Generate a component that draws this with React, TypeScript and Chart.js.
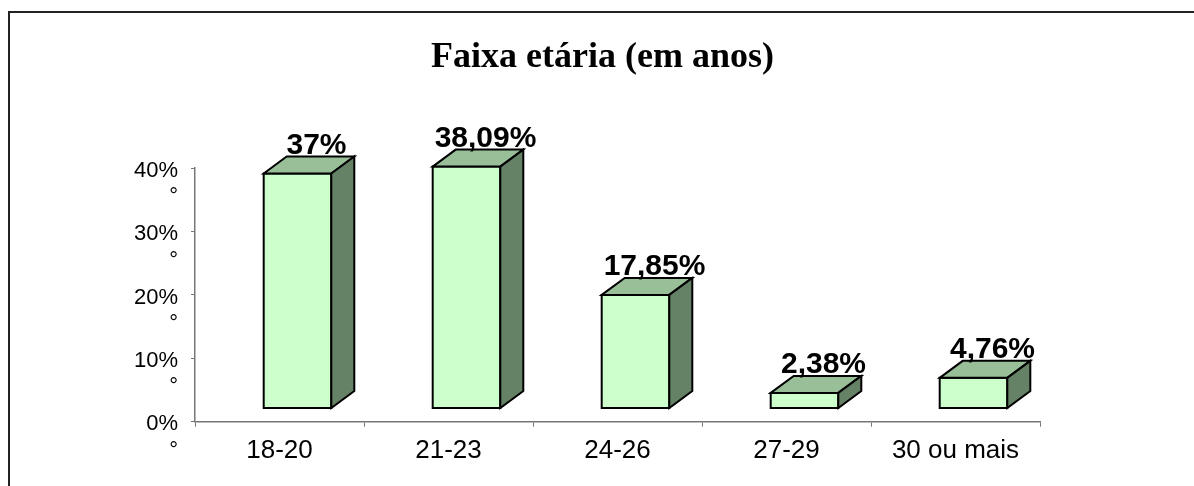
import React, { useEffect, useRef } from "react";
import { Chart, registerables } from "chart.js";

Chart.register(...registerables);

const categories = ["18-20", "21-23", "24-26", "27-29", "30 ou mais"];
const values = [37, 38.09, 17.85, 2.38, 4.76];
const valueLabels = ["37%", "38,09%", "17,85%", "2,38%", "4,76%"];
const yTickLabels = ["0%", "10%", "20%", "30%", "40%"];
const titleText = "Faixa etária (em anos)";

const FRONT = "#CCFFCC";
const TOP = "#99BF99";
const SIDE = "#668266";

const box3d = {
  id: "box3d",
  afterDatasetsDraw(chart: any) {
    const ctx = chart.ctx;
    const meta = chart.getDatasetMeta(0);
    const y = chart.scales.y;
    const lift = 13.7;
    const shiftX = 18;
    const dx = 23;
    const dy = 17;
    ctx.save();
    ctx.lineWidth = 2;
    ctx.lineJoin = "miter";
    ctx.strokeStyle = "#000";
    meta.data.forEach((el: any, i: number) => {
      const w = el.width;
      const left = el.x - w / 2 + shiftX;
      const right = left + w;
      const top = y.getPixelForValue(values[i]) - lift;
      const bottom = y.getPixelForValue(0) - lift;
      // front
      ctx.fillStyle = FRONT;
      ctx.beginPath();
      ctx.rect(left, top, w, bottom - top);
      ctx.fill();
      ctx.stroke();
      // top
      ctx.fillStyle = TOP;
      ctx.beginPath();
      ctx.moveTo(left, top);
      ctx.lineTo(left + dx, top - dy);
      ctx.lineTo(right + dx, top - dy);
      ctx.lineTo(right, top);
      ctx.closePath();
      ctx.fill();
      ctx.stroke();
      // side
      ctx.fillStyle = SIDE;
      ctx.beginPath();
      ctx.moveTo(right, top);
      ctx.lineTo(right + dx, top - dy);
      ctx.lineTo(right + dx, bottom - dy);
      ctx.lineTo(right, bottom);
      ctx.closePath();
      ctx.fill();
      ctx.stroke();
      // label
      ctx.fillStyle = "#000";
      ctx.font = "bold 30px 'Liberation Sans', Arial, sans-serif";
      ctx.textAlign = "center";
      ctx.textBaseline = "alphabetic";
      ctx.fillText(valueLabels[i], left + w / 2 + 19, top - dy - 3);
    });
    ctx.restore();
  },
};

const frame = {
  id: "frame",
  afterDraw(chart: any) {
    const ctx = chart.ctx;
    ctx.save();
    ctx.strokeStyle = "#222";
    ctx.lineWidth = 2;
    ctx.strokeRect(9, 12, 1300, 600);
    ctx.restore();
  },
};

export default function App() {
  const ref = useRef<HTMLCanvasElement | null>(null);
  useEffect(() => {
    document.body.style.margin = "0";
    const canvas = ref.current;
    if (!canvas) return;
    const chart = new Chart(canvas, {
      type: "bar",
      data: {
        labels: categories,
        datasets: [
          {
            data: values,
            backgroundColor: "rgba(0,0,0,0)",
            borderWidth: 0,
            barPercentage: 1,
            categoryPercentage: 0.4,
          },
        ],
      },
      options: {
        animation: false,
        responsive: false,
        devicePixelRatio: 1,
        layout: { padding: { left: 11, right: 0, top: 0, bottom: 0 } },
        plugins: {
          legend: { display: false },
          tooltip: { enabled: false },
          title: {
            display: true,
            text: titleText,
            color: "#000",
            font: { family: "'Liberation Serif', 'Times New Roman', serif", size: 36, weight: "bold" },
            padding: { top: 36, bottom: 89 },
          },
        },
        scales: {
          x: {
            afterFit: (s: any) => {
              s.height = 64.3;
            },
            grid: { display: true, drawOnChartArea: false, tickLength: 5, color: "#777", offset: true },
            border: { display: true, color: "#777", width: 1.5 },
            ticks: {
              color: "#000",
              padding: 9,
              font: { family: "'Liberation Sans', Arial, sans-serif", size: 26 },
            },
          },
          y: {
            min: 0,
            max: 40,
            afterFit: (s: any) => {
              s.width = 184;
            },
            grid: { display: true, drawOnChartArea: false, tickLength: 4, color: "#777" },
            border: { display: true, color: "#777", width: 1.5 },
            ticks: {
              stepSize: 10,
              color: "#000",
              padding: 13,
              labelOffset: 15.7,
              font: { family: "'Liberation Sans', Arial, sans-serif", size: 22 },
              callback: (_v: any, idx: number) => [yTickLabels[idx], "°"],
            },
          },
          yRight: {
            type: "linear",
            position: "right",
            min: 0,
            max: 40,
            afterFit: (s: any) => {
              s.width = 154;
            },
            grid: { display: false },
            border: { display: false },
            ticks: { display: false },
          },
        },
      },
      plugins: [box3d, frame],
    });
    return () => chart.destroy();
  }, []);
  return (
    <div style={{ width: 1194, height: 486 }}>
      <canvas ref={ref} width={1194} height={486} />
    </div>
  );
}
